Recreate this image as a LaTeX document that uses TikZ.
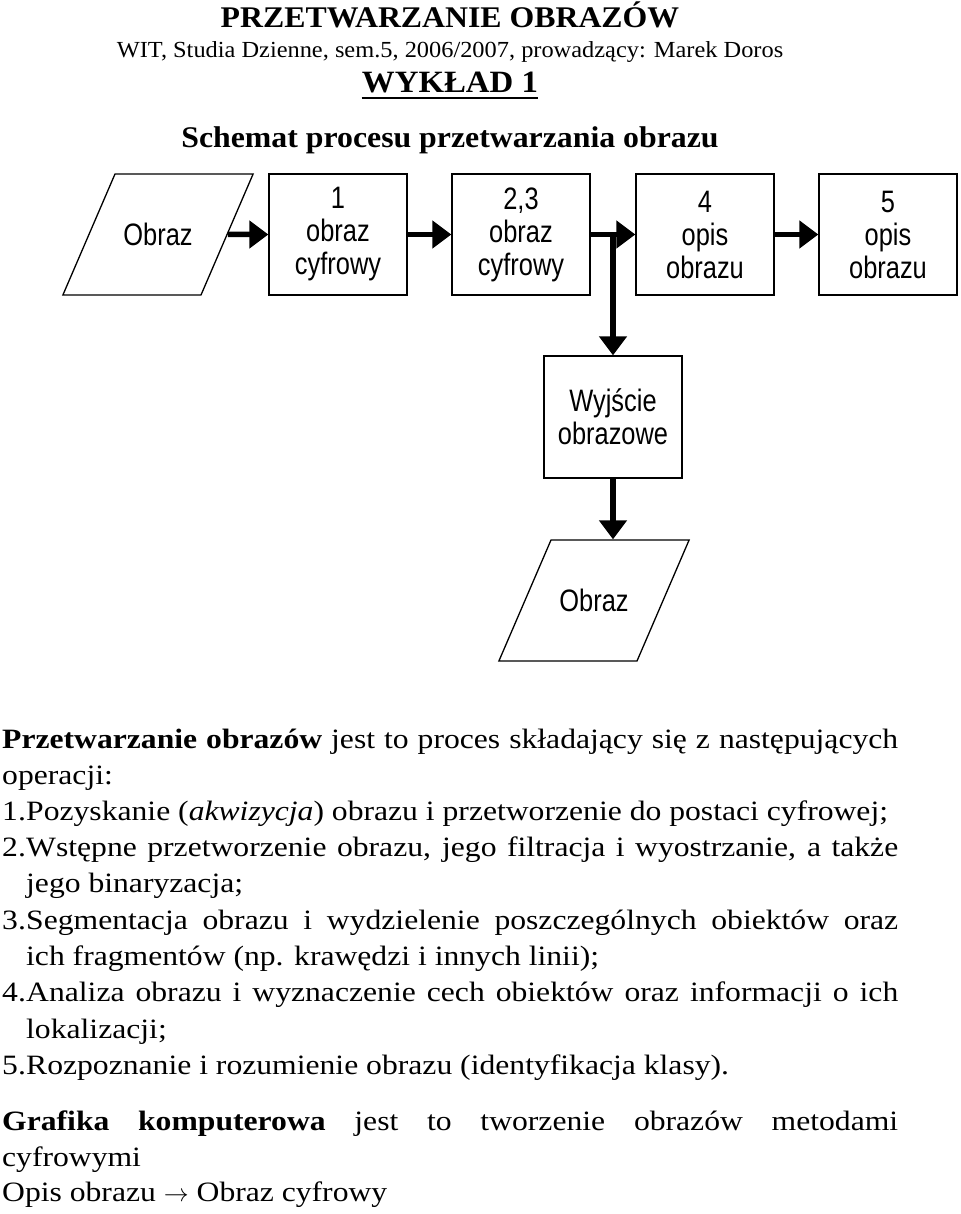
\documentclass[tikz,border=0pt]{standalone}
\usepackage{fontspec}
\setmainfont[FakeStretch=1.13]{Liberation Serif}
\newfontfamily\tytulfont[FakeStretch=1.06]{Liberation Serif}
\newfontfamily\diagfont[FakeStretch=0.82]{Liberation Sans}
\usetikzlibrary{arrows.meta,shapes.geometric}
\tikzset{
	txt/.style={anchor=base west, inner sep=0pt, font=\fontsize{28}{32}\selectfont},
	naglowek/.style={anchor=base, inner sep=0pt},
	blok/.style={draw, line width=1.3pt, minimum width=138pt, minimum height=121pt, align=center, font=\diagfont\fontsize{31}{33}\selectfont},
	wejscie/.style={trapezium, trapezium left angle=66.7, trapezium right angle=113.3, draw, line width=1.3pt, text width=86pt, align=center, inner xsep=0pt, text height=22pt, text depth=0pt, inner ysep=49.5pt, font=\diagfont\fontsize{31}{33}\selectfont},
	strz/.style={line width=5.5pt, -{Triangle[length=19pt,width=27pt]}}
}
\begin{document}
\begin{tikzpicture}[x=1pt, y=-1pt]
		\useasboundingbox (0,0) rectangle (960,1214);
		% naglowek
		\node[naglowek, font=\tytulfont\fontsize{30}{34}\selectfont\bfseries] (tytul) at (450,28) {PRZETWARZANIE OBRAZÓW};
		\node[naglowek, font=\tytulfont\fontsize{23}{27}\selectfont] (autor) at (450,58) {WIT, Studia Dzienne, sem.5, 2006/2007, prowadzący: Marek Doros};
		\node[naglowek, font=\tytulfont\fontsize{31}{34}\selectfont\bfseries] (wyklad) at (450,93) {WYKŁAD 1};
		\draw [line width=2pt] ([yshift=-5pt]wyklad.base west) -- ([yshift=-5pt]wyklad.base east);
		\node[naglowek, font=\tytulfont\fontsize{30}{34}\selectfont\bfseries] (schemat) at (450,148) {Schemat procesu przetwarzania obrazu};
		% schemat
		\node[wejscie] (obr1) at (158,234.5) {Obraz};
		\node[blok] (krok1) at (338,234.5) {1\\obraz\\cyfrowy};
		\node[blok] (krok23) at (521,234.5) {2,3\\obraz\\cyfrowy};
		\node[blok] (krok4) at (705,234.5) {4\\opis\\obrazu};
		\node[blok] (krok5) at (888,234.5) {5\\opis\\obrazu};
		\node[blok, minimum height=122pt] (wyj) at (613,417) {Wyjście\\obrazowe};
		\node[wejscie] (obr2) at (594,600.5) {Obraz};
		\coordinate (rozg) at (613,234.5);
		\draw [strz] (obr1) -- (krok1);
		\draw [strz] (krok1) -- (krok23);
		\draw [strz] (krok23) -- (krok4);
		\draw [strz] (krok4) -- (krok5);
		\draw [strz] (rozg) -- (wyj);
		\draw [strz] (wyj) -- (wyj.south |- obr2.north);
		% tekst
		\node[txt] (l1) at (2,748) {\makebox[896pt][s]{\textbf{Przetwarzanie obrazów} jest to proces składający się z następujących}};
		\node[txt] (l2) at (2,784) {operacji:};
		\node[txt] (n1) at (2,820) {1.};
		\node[txt] (l3) at (26,820) {Pozyskanie (\textit{akwizycja}) obrazu i przetworzenie do postaci cyfrowej;};
		\node[txt] (n2) at (2,856) {2.};
		\node[txt] (l4) at (26,856) {\makebox[872pt][s]{Wstępne przetworzenie obrazu, jego filtracja i wyostrzanie, a także}};
		\node[txt] (l5) at (26,892) {jego binaryzacja;};
		\node[txt] (n3) at (2,929) {3.};
		\node[txt] (l6) at (26,929) {\makebox[872pt][s]{Segmentacja obrazu i wydzielenie poszczególnych obiektów oraz}};
		\node[txt] (l7) at (26,965) {ich fragmentów (np. krawędzi i innych linii);};
		\node[txt] (n4) at (2,1001) {4.};
		\node[txt] (l8) at (26,1001) {\makebox[872pt][s]{Analiza obrazu i wyznaczenie cech obiektów oraz informacji o ich}};
		\node[txt] (l9) at (26,1038) {lokalizacji;};
		\node[txt] (n5) at (2,1074) {5.};
		\node[txt] (l10) at (26,1074) {Rozpoznanie i rozumienie obrazu (identyfikacja klasy).};
		\node[txt] (l11) at (2,1130) {\makebox[896pt][s]{\textbf{Grafika komputerowa} jest to tworzenie obrazów metodami}};
		\node[txt] (l12) at (2,1166) {cyfrowymi};
		\node[txt] (l13) at (2,1201) {Opis obrazu $\rightarrow$ Obraz cyfrowy};
\end{tikzpicture}
\end{document}
